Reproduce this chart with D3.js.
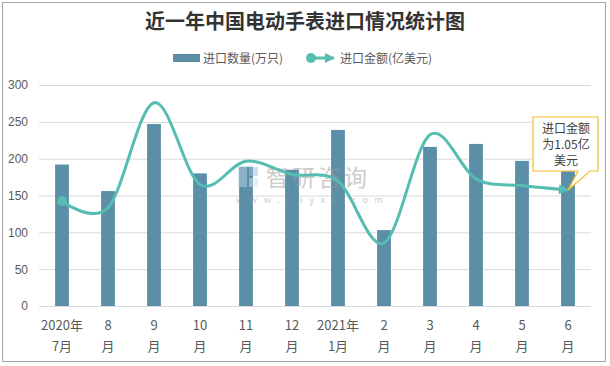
<!DOCTYPE html>
<html><head><meta charset="utf-8">
<script src="https://cdn.jsdelivr.net/npm/d3@7/dist/d3.min.js"></script>
<style>
html,body{margin:0;padding:0;background:#fff;}
text{font-family:"Noto Sans CJK SC","Noto Sans",sans-serif;}
</style></head>
<body>
<svg id="chart" width="610" height="366"></svg>
<script>
// ---- data ----
const categories = ["2020年\n7月","8\n月","9\n月","10\n月","11\n月","12\n月","2021年\n1月","2\n月","3\n月","4\n月","5\n月","6\n月"];
const quantity = [192, 156, 247, 180, 189, 185, 239, 103, 216, 220, 197, 183]; // 进口数量(万只)
const amount = [0.95, 0.89, 1.84, 1.10, 1.31, 1.19, 1.13, 0.57, 1.55, 1.15, 1.09, 1.05]; // 进口金额(亿美元)
const yTicks = [0, 50, 100, 150, 200, 250, 300];
const title = "近一年中国电动手表进口情况统计图";
const legendNames = ["进口数量(万只)", "进口金额(亿美元)"];
const calloutLines = ["进口金额", "为1.05亿", "美元"];

const svg = d3.select("#chart");
const barColor = "#5b8ea7", lineColor = "#56bdb1", gridColor = "#d9d9d9", textColor = "#595959";

svg.append("rect").attr("x",0).attr("y",0).attr("width",610).attr("height",366).attr("fill","#fff");
svg.append("rect").attr("x",2.5).attr("y",2.5).attr("width",603).attr("height",359)
  .attr("fill","none").attr("stroke","#a6a6a6").attr("stroke-width",1);

const x = d3.scaleBand().domain(categories).range([39,591]).paddingInner(0.7).paddingOuter(0.35);
const y = d3.scaleLinear().domain([0,300]).range([306,85]);
const y2 = d3.scaleLinear().domain([0,2]).range([306,85]);

// title
svg.append("text").attr("x",305).attr("y",29).attr("text-anchor","middle")
  .attr("font-size",20).attr("font-weight","bold").attr("fill","#333").text(title);

// grid + y axis
const yAxis = d3.axisLeft(y).tickValues(yTicks).tickSize(0).tickPadding(0);
const gy = svg.append("g").attr("transform","translate(28,0)").call(yAxis);
gy.select(".domain").remove();
gy.selectAll("text").attr("fill",textColor).attr("font-size",12)
  .style("font-family","'Liberation Sans','Noto Sans',sans-serif");
svg.append("g").selectAll("line").data(yTicks).join("line")
  .attr("x1",39).attr("x2",591).attr("y1",d=>y(d)+0.5).attr("y2",d=>y(d)+0.5)
  .attr("stroke",gridColor).attr("stroke-width",1);

// bars
svg.append("g").selectAll("rect").data(quantity).join("rect")
  .attr("x",(d,i)=>x(categories[i])).attr("width",x.bandwidth())
  .attr("y",d=>y(d)).attr("height",d=>y(0)-y(d)).attr("fill",barColor);

// watermark (over bars)
const wm = svg.append("g").attr("opacity",0.5);
wm.append("rect").attr("x",238).attr("y",167).attr("width",9).attr("height",20).attr("fill","#b9d0e6");
wm.append("rect").attr("x",249).attr("y",167).attr("width",9).attr("height",9).attr("fill","#9fbfe0");
wm.append("rect").attr("x",249).attr("y",178).attr("width",9).attr("height",9).attr("fill","#d3e2f0");
wm.append("text").attr("x",266).attr("y",186).attr("font-size",23).attr("fill","#9a9a9a")
  .attr("letter-spacing",3).text("智研咨询");
wm.append("text").attr("x",236).attr("y",203).attr("font-size",9).attr("fill","#9a9a9a")
  .attr("letter-spacing",6.6).text("www.chyxx.com");

// x axis line
svg.append("line").attr("x1",39).attr("x2",591).attr("y1",306.5).attr("y2",306.5)
  .attr("stroke",gridColor).attr("stroke-width",1);

// x labels
const xAxis = d3.axisBottom(x).tickSize(0).tickFormat("");
const gx = svg.append("g").attr("transform","translate(0,306)").call(xAxis);
gx.select(".domain").remove();
gx.selectAll(".tick").each(function(d){
  const t = d3.select(this).append("text").attr("text-anchor","middle")
    .attr("fill",textColor).attr("font-size",13);
  d.split("\n").forEach((s,k)=>{
    t.append("tspan").attr("x",0).attr("y",24 + k*21).text(s);
  });
});

// markers
const defs = svg.append("defs");
defs.append("marker").attr("id","mStart").attr("viewBox","-6 -6 12 12")
  .attr("markerWidth",12).attr("markerHeight",12).attr("markerUnits","userSpaceOnUse")
  .attr("refX",0).attr("refY",0)
  .append("circle").attr("r",5).attr("fill",lineColor);
defs.append("marker").attr("id","mEnd").attr("viewBox","-10 -6 12 12")
  .attr("markerWidth",12).attr("markerHeight",12).attr("markerUnits","userSpaceOnUse")
  .attr("refX",0).attr("refY",0).attr("orient","auto")
  .append("path").attr("d","M-9,-5 L1,0 L-9,5 Z").attr("fill",lineColor);

// line
const line = d3.line().x((d,i)=>x(categories[i])+x.bandwidth()/2).y(d=>y2(d))
  .curve(d3.curveCatmullRom.alpha(0));
svg.append("path").datum(amount).attr("d",line).attr("fill","none")
  .attr("stroke",lineColor).attr("stroke-width",3)
  .attr("marker-start","url(#mStart)").attr("marker-end","url(#mEnd)");

// callout
const last = amount.length-1;
const px = x(categories[last])+x.bandwidth()/2, py = y2(amount[last]);
const bx0 = 533, by0 = 117, bx1 = 598, by1 = 171;
svg.append("path")
  .attr("d",`M${bx0},${by0} L${bx1},${by0} L${bx1},${by1} L${bx1-8},${by1} L${px},${py} L${bx1-20},${by1} L${bx0},${by1} Z`)
  .attr("fill","#fff").attr("stroke","#f5bd2e").attr("stroke-width",1.2);
calloutLines.forEach((s,k)=>{
  svg.append("text").attr("x",566).attr("y",133+k*16).attr("text-anchor","middle")
    .attr("font-size",12).attr("fill","#404040").text(s);
});

// legend
const lg = svg.append("g");
lg.append("rect").attr("x",173).attr("y",54).attr("width",27).attr("height",8).attr("fill",barColor);
lg.append("text").attr("x",203).attr("y",62.5).attr("font-size",12).attr("fill",textColor).text(legendNames[0]);
lg.append("line").attr("x1",311).attr("x2",334).attr("y1",58).attr("y2",58)
  .attr("stroke",lineColor).attr("stroke-width",3)
  .attr("marker-start","url(#mStart)").attr("marker-end","url(#mEnd)");
lg.append("text").attr("x",340).attr("y",62.5).attr("font-size",12).attr("fill",textColor).text(legendNames[1]);
</script>
</body></html>
